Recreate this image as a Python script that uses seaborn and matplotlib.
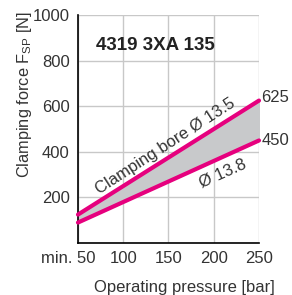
import matplotlib
matplotlib.use("Agg")
import matplotlib.pyplot as plt
import matplotlib.transforms as mtrans
import seaborn as sns
import pandas as pd

pressure = [50, 250]
force_135 = [125, 625]
force_138 = [90, 450]
x_ticks = [50, 100, 150, 200, 250]
x_labels = ["min. 50", "100", "150", "200", "250"]
y_ticks = [0, 200, 400, 600, 800, 1000]
y_labels = ["", "200", "400", "600", "800", "1000"]

sns.set_style("white")
plt.rcParams['font.family'] = ['Liberation Sans', 'DejaVu Sans']

fig = plt.figure(figsize=(2.92, 2.95), dpi=100)
ax = fig.add_axes([0.267, 0.176, 0.62, 0.773])

df = pd.DataFrame({"p": pressure * 2, "F": force_135 + force_138,
                   "bore": ["13.5"] * 2 + ["13.8"] * 2})
ax.fill_between(pressure, force_138, force_135, color="#c8c9cb", zorder=2)
sns.lineplot(data=df, x="p", y="F", hue="bore", palette=["#e6007e", "#e6007e"],
             linewidth=3, legend=False, ax=ax, zorder=3)

ax.set_xlim(50, 250)
ax.set_ylim(0, 1000)
ax.set_xticks(x_ticks)
ax.set_xticklabels(x_labels)
ax.set_yticks(y_ticks)
ax.set_yticklabels(y_labels)
ax.grid(True, color="#c8c8c8", linewidth=1)
for s in ["top", "right"]:
    ax.spines[s].set_visible(False)
for s in ["left", "bottom"]:
    ax.spines[s].set_color("black")
    ax.spines[s].set_linewidth(1.2)
ax.tick_params(axis="both", direction="inout", length=6, width=1, color="black",
               labelsize=12, labelcolor="#333333", pad=3)
first = ax.get_xticklabels()[0]
first.set_transform(first.get_transform() + mtrans.ScaledTranslation(-0.095, 0, fig.dpi_scale_trans))

ax.set_xlabel("Operating pressure [bar]", fontsize=12, color="#333333")
ax.xaxis.set_label_coords(0.59, -0.16)
ax.set_ylabel("Clamping force F$_{\\mathregular{SP}}$ [N]", fontsize=11.8, color="#333333")
ax.yaxis.set_label_coords(-0.245, 0.65)

ax.text(136, 865, "4319 3XA 135", fontsize=13.5, fontweight="bold", ha="center",
        va="center", color="#222222")
ax.text(252, 640, "625", fontsize=12, ha="left", va="center", color="#333333", clip_on=False)
ax.text(253, 450, "450", fontsize=12, ha="left", va="center", color="#333333", clip_on=False)
ax.text(147, 426, "Clamping bore Ø 13.5", fontsize=12, rotation=33, ha="center",
        va="center", color="#333333", rotation_mode="anchor")
ax.text(210, 304, "Ø 13.8", fontsize=12, rotation=24, ha="center",
        va="center", color="#333333", rotation_mode="anchor")

for l in ax.lines:
    l.set_clip_on(False)

fig.savefig("out.png", dpi=100)
